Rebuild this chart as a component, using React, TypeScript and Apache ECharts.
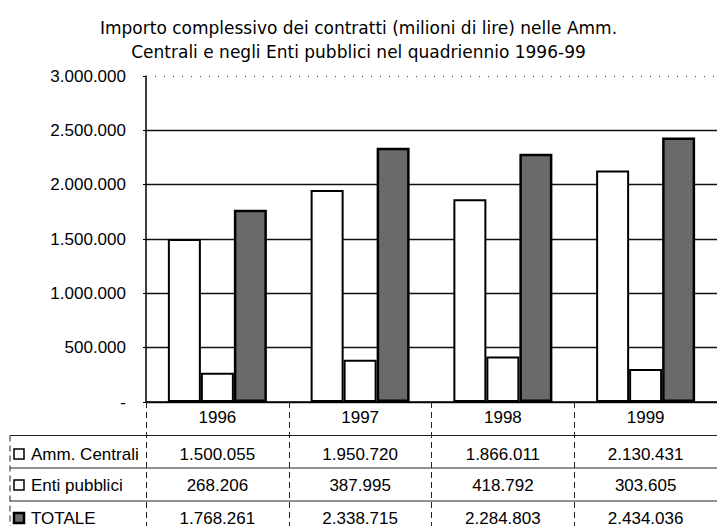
import React, { useEffect, useRef } from "react";
import * as echarts from "echarts";

const years = ["1996", "1997", "1998", "1999"];
const seriesNames = ["Amm. Centrali", "Enti pubblici", "TOTALE"];
const ammCentrali = [1500055, 1950720, 1866011, 2130431];
const entiPubblici = [268206, 387995, 418792, 303605];
const totale = [1768261, 2338715, 2284803, 2434036];
const yMax = 3000000;
const yInterval = 500000;
const titleLines = [
  "Importo complessivo dei contratti (milioni di lire) nelle Amm.",
  "Centrali e negli Enti pubblici nel quadriennio 1996-99",
];

const FONT = "'Liberation Sans', Arial, Helvetica, sans-serif";
const TITLE_FONT = "'DejaVu Sans', 'Liberation Sans', sans-serif";
const FS = 17;

function fmt(n: number): string {
  if (n === 0) return "-";
  return String(n).replace(/\B(?=(\d{3})+(?!\d))/g, ".");
}

export default function App() {
  const ref = useRef<HTMLDivElement>(null);

  useEffect(() => {
    if (!ref.current) return;
    const chart = echarts.init(ref.current, undefined, { renderer: "svg" });
    const barBase = {
      type: "bar" as const,
      barWidth: 33,
      barGap: "0%",
    };
    chart.setOption({
      animation: false,
      backgroundColor: "#ffffff",
      title: {
        text: titleLines.join("\n"),
        left: "center",
        top: 11,
        textStyle: {
          fontFamily: TITLE_FONT,
          fontSize: 17,
          fontWeight: "normal",
          color: "#000",
          lineHeight: 24,
        },
      },
      grid: { left: 146, top: 76, width: 581, height: 326 },
      xAxis: {
        type: "category",
        data: years,
        axisLine: { show: true, lineStyle: { color: "#000", width: 1.5 } },
        axisTick: {
          show: true,
          interval: 0,
          length: 124,
          lineStyle: { color: "#222", width: 1, type: [6, 4] },
        },
        axisLabel: {
          margin: 7,
          fontFamily: FONT,
          fontSize: FS,
          color: "#000",
          lineHeight: 17,
        },
        splitLine: { show: false },
      },
      yAxis: {
        type: "value",
        min: 0,
        max: yMax,
        interval: yInterval,
        axisLine: { show: true, lineStyle: { color: "#000", width: 1.5 } },
        axisTick: { show: true, length: 3, lineStyle: { color: "#000" } },
        axisLabel: {
          margin: 20,
          fontFamily: FONT,
          fontSize: FS,
          color: "#000",
          formatter: (v: number) => fmt(v),
        },
        splitLine: {
          show: true,
          showMaxLine: false,
          lineStyle: { color: "#111", width: 1.4 },
        },
      },
      series: [
        {
          ...barBase,
          name: seriesNames[0],
          data: ammCentrali,
          itemStyle: { color: "#ffffff", borderColor: "#000", borderWidth: 2 },
          markLine: {
            silent: true,
            symbol: "none",
            label: { show: false },
            lineStyle: { type: [1, 8], color: "#333", width: 1 },
            data: [{ yAxis: yMax }],
          },
        },
        {
          ...barBase,
          name: seriesNames[1],
          data: entiPubblici,
          itemStyle: { color: "#ffffff", borderColor: "#000", borderWidth: 2 },
        },
        {
          ...barBase,
          name: seriesNames[2],
          data: totale,
          itemStyle: { color: "#6a6a6a", borderColor: "#000", borderWidth: 2.5 },
        },
      ],
    });

    const rows = [ammCentrali, entiPubblici, totale];
    const rowY = [454, 485, 518];
    const lineY = [435.5, 468, 501];
    const graphics: any[] = [];
    lineY.forEach((y) => {
      graphics.push({
        type: "line",
        silent: true,
        shape: { x1: 10, y1: y, x2: 717, y2: y },
        style: { stroke: "#222", lineWidth: 1 },
      });
    });
    graphics.push({
      type: "line",
      silent: true,
      shape: { x1: 10, y1: 435.5, x2: 10, y2: 526 },
      style: { stroke: "#222", lineWidth: 1, lineDash: [6, 4] },
    });
    rows.forEach((vals, r) => {
      graphics.push({
        type: "rect",
        silent: true,
        shape: { x: 14, y: rowY[r] - 5, width: 10, height: 10 },
        style: {
          fill: r === 2 ? "#6a6a6a" : "#ffffff",
          stroke: "#000",
          lineWidth: r === 2 ? 2.5 : 1.5,
        },
      });
      graphics.push({
        type: "text",
        silent: true,
        x: 31,
        y: rowY[r],
        style: {
          text: seriesNames[r],
          font: `${FS}px ${FONT}`,
          fill: "#000",
          textAlign: "left",
          textVerticalAlign: "middle",
        },
      });
      vals.forEach((v, i) => {
        const px = chart.convertToPixel({ xAxisIndex: 0 }, years[i]) as number;
        graphics.push({
          type: "text",
          silent: true,
          x: px,
          y: rowY[r],
          style: {
            text: fmt(v),
            font: `${FS}px ${FONT}`,
            fill: "#000",
            textAlign: "center",
            textVerticalAlign: "middle",
          },
        });
      });
    });
    chart.setOption({ graphic: graphics });

    return () => chart.dispose();
  }, []);

  return (
    <div
      ref={ref}
      style={{ position: "fixed", left: 0, top: 0, width: 717, height: 526 }}
    />
  );
}
